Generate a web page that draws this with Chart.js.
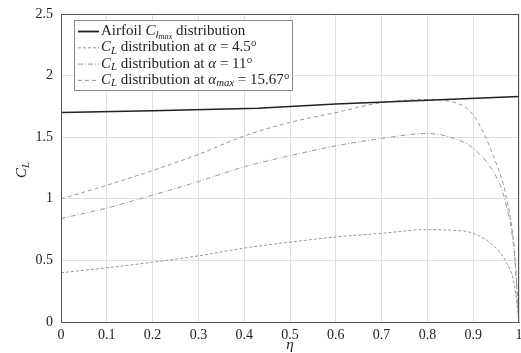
<!DOCTYPE html>
<html>
<head>
<meta charset="utf-8">
<script src="https://cdn.jsdelivr.net/npm/chart.js@4.4.1/dist/chart.umd.min.js"></script>
<style>
  html, body { margin: 0; padding: 0; background: #fff; }
  #wrap { width: 521px; height: 353px; }
</style>
</head>
<body>
<div id="wrap"><canvas id="myChart" width="521" height="353"></canvas></div>
<script>
// spanwise station eta and lift coefficient values
const etaClmax = [0, 0.2, 0.43, 0.6, 0.8, 1];
const clmaxAirfoil = [1.70, 1.715, 1.735, 1.77, 1.80, 1.83];

const eta = [0, 0.1, 0.2, 0.3, 0.4, 0.5, 0.6, 0.7, 0.8, 0.85, 0.9, 0.95, 0.97, 0.99, 1];
const clAlpha45 = [0.40, 0.44, 0.485, 0.537, 0.60, 0.648, 0.69, 0.72, 0.75, 0.745, 0.72, 0.60, 0.50, 0.30, 0];
const clAlpha11 = [0.84, 0.925, 1.03, 1.14, 1.26, 1.35, 1.43, 1.49, 1.53, 1.50, 1.41, 1.18, 0.98, 0.55, 0];
const clAlphaMax = [1.00, 1.11, 1.23, 1.36, 1.51, 1.62, 1.70, 1.78, 1.806, 1.79, 1.68, 1.29, 1.05, 0.58, 0];

const xTicks = [0, 0.1, 0.2, 0.3, 0.4, 0.5, 0.6, 0.7, 0.8, 0.9, 1];
const yTicks = [0, 0.5, 1, 1.5, 2, 2.5];

const SERIF = "'Liberation Serif', 'DejaVu Serif', serif";

function pts(xs, ys) {
  return xs.map((x, i) => ({ x: x, y: ys[i] }));
}

// draw a run of text pieces, some italic / subscript
function drawRich(ctx, parts, x, y, size) {
  parts.forEach((p) => {
    let s = size;
    let dy = 0;
    if (p.sub === 1) { s = size * 0.72; dy = size * 0.25; }
    if (p.sub === 2) { s = size * 0.55; dy = size * 0.38; }
    ctx.font = (p.it ? "italic " : "") + s + "px " + SERIF;
    ctx.fillText(p.t, x, y + dy);
    x += ctx.measureText(p.t).width;
  });
  return x;
}

const legendRows = [
  { dash: [], color: "#222", width: 1.8,
    parts: [{ t: "Airfoil " }, { t: "C", it: true }, { t: "l", it: true, sub: 1 }, { t: "max", it: true, sub: 2 }, { t: " distribution" }] },
  { dash: [3, 2], color: "#999", width: 1,
    parts: [{ t: "C", it: true }, { t: "L", it: true, sub: 1 }, { t: " distribution at " }, { t: "α", it: true }, { t: " = 4.5°" }] },
  { dash: [5, 2, 1, 2], color: "#999", width: 1,
    parts: [{ t: "C", it: true }, { t: "L", it: true, sub: 1 }, { t: " distribution at " }, { t: "α", it: true }, { t: " = 11°" }] },
  { dash: [4, 3], color: "#999", width: 1,
    parts: [{ t: "C", it: true }, { t: "L", it: true, sub: 1 }, { t: " distribution at " }, { t: "α", it: true }, { t: "max", it: true, sub: 1 }, { t: " = 15.67°" }] },
];

const extras = {
  id: "extras",
  afterDraw(chart) {
    const ctx = chart.ctx;
    const a = chart.chartArea;
    ctx.save();
    // frame
    ctx.strokeStyle = "#555";
    ctx.lineWidth = 1;
    ctx.strokeRect(a.left + 0.5, a.top + 0.5, a.right - a.left - 1, a.bottom - a.top);

    // legend
    ctx.fillStyle = "#fff";
    ctx.fillRect(74, 20, 218, 70);
    ctx.strokeStyle = "#888";
    ctx.strokeRect(74.5, 20.5, 218, 70);
    ctx.textBaseline = "middle";
    legendRows.forEach((r, i) => {
      const y = 31 + i * 16.3;
      ctx.beginPath();
      ctx.setLineDash(r.dash);
      ctx.strokeStyle = r.color;
      ctx.lineWidth = r.width;
      ctx.moveTo(78, y + 0.5);
      ctx.lineTo(99, y + 0.5);
      ctx.stroke();
      ctx.setLineDash([]);
      ctx.fillStyle = "#222";
      drawRich(ctx, r.parts, 101, y, 15);
    });

    // axis titles
    ctx.fillStyle = "#222";
    ctx.textBaseline = "middle";
    ctx.font = "italic 15px " + SERIF;
    ctx.textAlign = "center";
    ctx.fillText("η", (a.left + a.right) / 2, 345);
    ctx.textAlign = "left";
    ctx.save();
    ctx.translate(22, 178);
    ctx.rotate(-Math.PI / 2);
    drawRich(ctx, [{ t: "C", it: true }, { t: "L", it: true, sub: 1 }], 0, 0, 15);
    ctx.restore();
    ctx.restore();
  },
};

const ctx = document.getElementById("myChart").getContext("2d");
const myChart = new Chart(ctx, {
  type: "scatter",
  data: {
    datasets: [
      {
        label: "Airfoil Clmax distribution",
        data: pts(etaClmax, clmaxAirfoil),
        showLine: true,
        borderColor: "#222",
        borderWidth: 1.6,
        pointRadius: 0,
        tension: 0,
      },
      {
        label: "CL distribution at α = 4.5°",
        data: pts(eta, clAlpha45),
        showLine: true,
        borderColor: "#999",
        borderWidth: 1,
        borderDash: [3, 2],
        pointRadius: 0,
        cubicInterpolationMode: "monotone",
      },
      {
        label: "CL distribution at α = 11°",
        data: pts(eta, clAlpha11),
        showLine: true,
        borderColor: "#999",
        borderWidth: 1,
        borderDash: [5, 2, 1, 2],
        pointRadius: 0,
        cubicInterpolationMode: "monotone",
      },
      {
        label: "CL distribution at αmax = 15.67°",
        data: pts(eta, clAlphaMax),
        showLine: true,
        borderColor: "#999",
        borderWidth: 1,
        borderDash: [4, 3],
        pointRadius: 0,
        cubicInterpolationMode: "monotone",
      },
    ],
  },
  options: {
    responsive: false,
    animation: false,
    layout: { padding: { left: 0, right: 2, top: 14, bottom: 0 } },
    plugins: {
      legend: { display: false },
      tooltip: { enabled: false },
    },
    scales: {
      x: {
        type: "linear",
        min: 0,
        max: 1,
        afterBuildTicks: (s) => { s.ticks = xTicks.map((v) => ({ value: v })); },
        afterFit: (s) => { s.height = 31; s.paddingRight = 0; s.paddingLeft = 0; },
        grid: { color: "#e0e0e0", drawTicks: false },
        border: { color: "#555", width: 1 },
        ticks: {
          color: "#222",
          padding: 5,
          font: { family: SERIF, size: 14 },
          maxRotation: 0,
          callback: (v) => String(Math.round(v * 10) / 10),
        },
      },
      y: {
        type: "linear",
        min: 0,
        max: 2.5,
        afterBuildTicks: (s) => { s.ticks = yTicks.map((v) => ({ value: v })); },
        afterFit: (s) => { s.width = 61; s.paddingTop = 0; s.paddingBottom = 0; },
        grid: { color: "#e0e0e0", drawTicks: false },
        border: { color: "#555", width: 1 },
        ticks: {
          color: "#222",
          padding: 8,
          font: { family: SERIF, size: 14 },
          callback: (v) => String(v),
        },
      },
    },
  },
  plugins: [extras],
});
</script>
</body>
</html>
